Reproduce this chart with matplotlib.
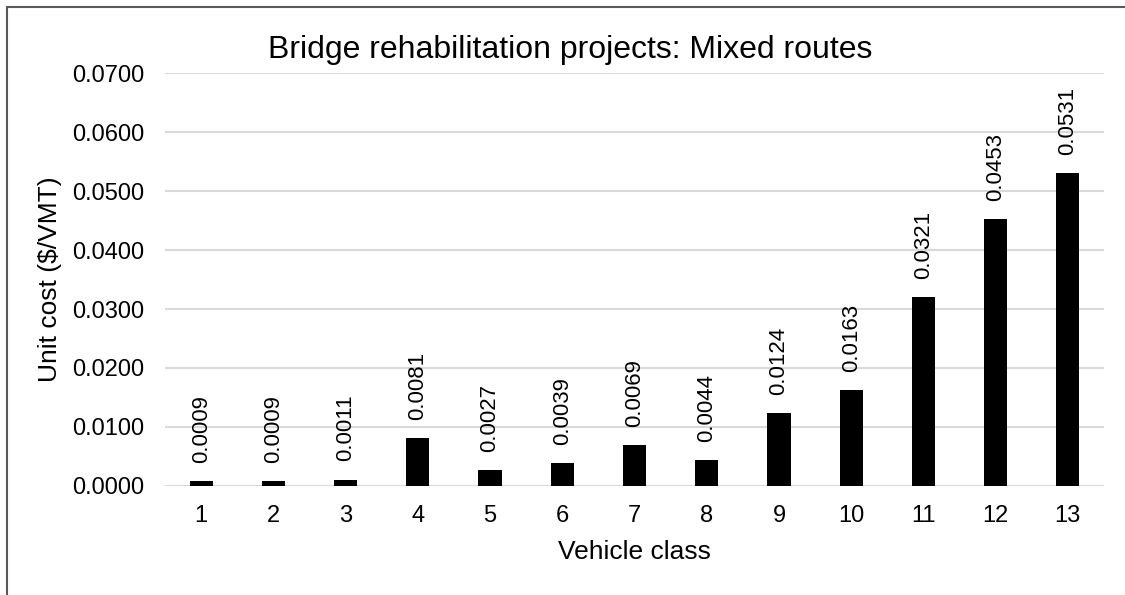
import matplotlib
matplotlib.use("Agg")
import matplotlib.pyplot as plt
from matplotlib.patches import Rectangle

plt.rcParams['font.family'] = ['Liberation Sans', 'DejaVu Sans']

vehicle_classes = ["1", "2", "3", "4", "5", "6", "7", "8", "9", "10", "11", "12", "13"]
unit_costs = [0.0009, 0.0009, 0.0011, 0.0081, 0.0027, 0.0039, 0.0069,
              0.0044, 0.0124, 0.0163, 0.0321, 0.0453, 0.0531]
y_ticks = [0.0, 0.01, 0.02, 0.03, 0.04, 0.05, 0.06, 0.07]

fig = plt.figure(figsize=(11.25, 5.95), dpi=100)
ax = fig.add_axes([0.1467, 0.1832, 0.8346, 0.6941])

x = list(range(1, len(vehicle_classes) + 1))
ax.bar(x, unit_costs, width=0.32, color="black", zorder=3)

for xi, v in zip(x, unit_costs):
    ax.annotate(f"{v:.4f}", xy=(xi, v), xytext=(0, 13), textcoords="offset points",
                rotation=90, ha="center", va="bottom", fontsize=16, color="black")

ax.set_xlim(0.5, len(vehicle_classes) + 0.5)
ax.set_ylim(0, 0.07)
ax.set_xticks(x)
ax.set_xticklabels(vehicle_classes)
ax.set_yticks(y_ticks)
ax.set_yticklabels([f"{t:.4f}" for t in y_ticks])
ax.tick_params(axis="both", length=0, labelsize=17, colors="black")
ax.tick_params(axis="y", pad=15)
ax.tick_params(axis="x", pad=14)
ax.grid(axis="y", color="#d9d9d9", linewidth=1.5, zorder=0)
for s in ax.spines.values():
    s.set_visible(False)

ax.set_xlabel("Vehicle class", fontsize=19, labelpad=9)
ax.set_ylabel("Unit cost ($/VMT)", fontsize=19, labelpad=7)
fig.text(570 / 1125, 1 - 58 / 595, "Bridge rehabilitation projects: Mixed routes",
         ha="center", va="baseline", fontsize=23)

# outer chart frame
fig.patches.append(Rectangle((7 / 1125, -0.05), 1.2, 1 - 7 / 595 + 0.05,
                             transform=fig.transFigure, fill=False,
                             edgecolor="#595959", linewidth=1.5))

fig.savefig("out.png", dpi=100)
